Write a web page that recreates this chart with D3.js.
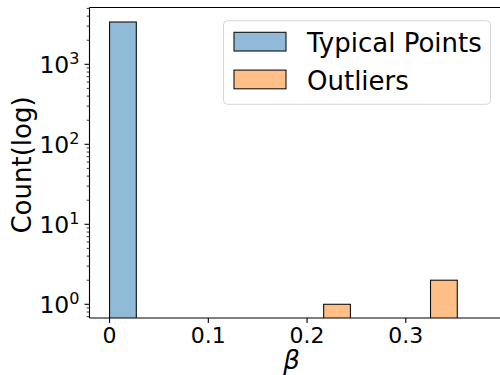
<!DOCTYPE html>
<html><head><meta charset="utf-8">
<script src="https://cdn.jsdelivr.net/npm/d3@7"></script>
<style>body{margin:0;background:#fff}svg{display:block;font-family:"DejaVu Sans",sans-serif}</style>
</head><body><svg id="c" width="500" height="375"></svg>
<script>
// ---- data ----
const binWidth = 0.0271;
const typicalBinStarts = [0.0];
const typicalCounts = [3380];
const outlierBinStarts = [0.2168, 0.3250];
const outlierCounts = [1, 2];
const xTicks = [0, 0.1, 0.2, 0.3];
const xTickLabels = ["0", "0.1", "0.2", "0.3"];
const yTicks = [1, 10, 100, 1000];
const yTickExps = ["0", "1", "2", "3"];
const seriesNames = ["Typical Points", "Outliers"];
const seriesColors = ["#8fbbd9", "#ffbf86"];

const svg = d3.select("#c");
const L = 89.5, R = 503.5, T = 7.5, B = 318;
const x = d3.scaleLinear().domain([-0.0203, 0.3989]).range([L, R]);
const y = d3.scaleLog().domain([0.674, 5130]).range([B, T]);

const g = svg.append("g");
svg.append("clipPath").attr("id","ax").append("rect").attr("x",L).attr("y",T).attr("width",R-L).attr("height",B-T);
const plot = g.append("g").attr("clip-path","url(#ax)");

function bars(starts, counts, color){
  plot.selectAll(null).data(starts.map((s,i)=>({s, c:counts[i]}))).enter().append("rect")
    .attr("x", d=>x(d.s)).attr("width", d=>x(d.s+binWidth)-x(d.s))
    .attr("y", d=>y(d.c)).attr("height", d=>B+5-y(d.c))
    .attr("fill", color).attr("stroke","#111").attr("stroke-width",1.1);
}
bars(typicalBinStarts, typicalCounts, seriesColors[0]);
bars(outlierBinStarts, outlierCounts, seriesColors[1]);

// spines
g.append("line").attr("x1",L).attr("x2",L).attr("y1",T).attr("y2",B).attr("stroke","#000").attr("stroke-width",1.1);
g.append("line").attr("x1",L).attr("x2",R).attr("y1",B).attr("y2",B).attr("stroke","#000").attr("stroke-width",1.1);
g.append("line").attr("x1",L).attr("x2",R).attr("y1",T).attr("y2",T).attr("stroke","#000").attr("stroke-width",1.1);

// x axis ticks
xTicks.forEach((v,i)=>{
  g.append("line").attr("x1",x(v)).attr("x2",x(v)).attr("y1",B).attr("y2",B+4.9).attr("stroke","#000").attr("stroke-width",1.1);
  g.append("text").attr("x",x(v)).attr("y",343).attr("text-anchor","middle").attr("font-size",22).attr("fill","#000").text(xTickLabels[i]);
});
// y major ticks
yTicks.forEach((v,i)=>{
  const yy = y(v);
  g.append("line").attr("x1",L-4.9).attr("x2",L).attr("y1",yy).attr("y2",yy).attr("stroke","#000").attr("stroke-width",1.1);
  const t = g.append("text").attr("x",79.5).attr("y",yy+8.3).attr("text-anchor","end").attr("font-size",23.5).attr("fill","#000");
  t.append("tspan").text("10");
  t.append("tspan").attr("dy",-8.5).attr("font-size",16).text(yTickExps[i]);
});
// y minor ticks
const [d0,d1] = y.domain();
for(let e=-1;e<=3;e++){
  for(let m=2;m<=9;m++){
    const v = m*Math.pow(10,e);
    if(v<d0||v>d1) continue;
    g.append("line").attr("x1",L-2.8).attr("x2",L).attr("y1",y(v)).attr("y2",y(v)).attr("stroke","#000").attr("stroke-width",0.8);
  }
}
// labels
g.append("text").attr("transform","translate(31,165) rotate(-90)").attr("text-anchor","middle").attr("font-size",26).attr("fill","#000").text("Count(log)");
g.append("text").attr("x",(L+R)/2-5).attr("y",369).attr("text-anchor","middle").attr("font-size",26).attr("font-style","italic").attr("fill","#000").text("β");

// legend
const lg = g.append("g");
lg.append("rect").attr("x",223.5).attr("y",20.7).attr("width",267).attr("height",83.6).attr("rx",4).attr("fill","#fff").attr("fill-opacity",0.8).attr("stroke","#d6d6d6").attr("stroke-width",1);
seriesNames.forEach((n,i)=>{
  const yy = 32.3 + i*37.8;
  lg.append("rect").attr("x",234).attr("y",yy).attr("width",52).attr("height",18.7).attr("fill",seriesColors[i]).attr("stroke","#111").attr("stroke-width",1.1);
  lg.append("text").attr("x",307).attr("y",yy+19.6).attr("font-size",26).attr("fill","#000").text(n);
});
</script></body></html>
